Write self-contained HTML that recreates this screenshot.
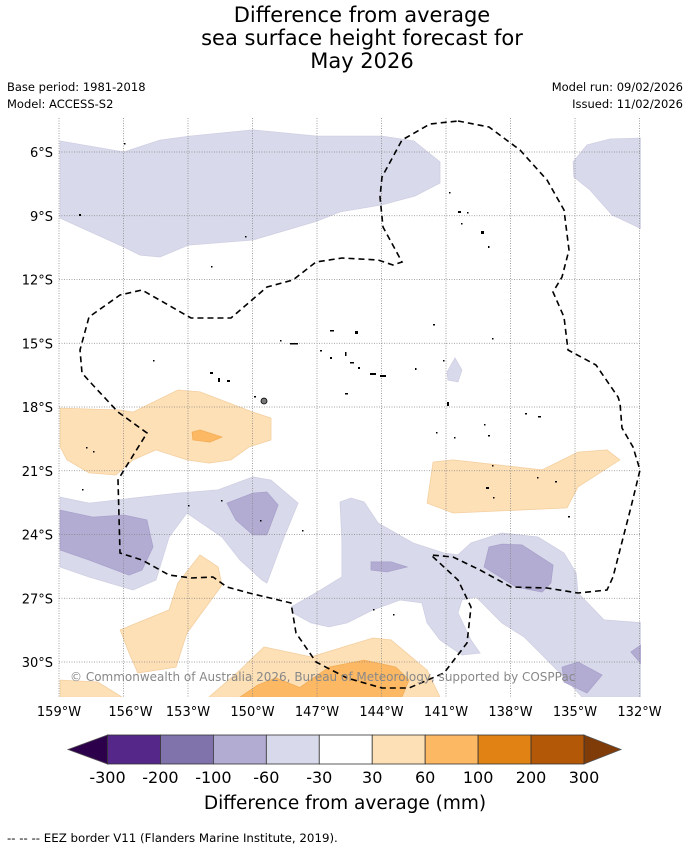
<!DOCTYPE html>
<html><head><meta charset="utf-8"><style>
html,body{margin:0;padding:0;background:#fff;}
svg text{font-family:"DejaVu Sans","Liberation Sans",sans-serif;}
</style></head><body>
<svg id="chart" width="690" height="850" viewBox="0 0 690 850" xmlns="http://www.w3.org/2000/svg">
<g font-size="21" text-anchor="middle" fill="#000">
<text x="362" y="22">Difference from average</text>
<text x="362" y="45">sea surface height forecast for</text>
<text x="362" y="68">May 2026</text>
</g>
<g font-size="11.5" fill="#000">
<text x="7" y="91">Base period: 1981-2018</text>
<text x="7" y="108">Model: ACCESS-S2</text>
<text x="683" y="91" text-anchor="end">Model run: 09/02/2026</text>
<text x="683" y="108" text-anchor="end">Issued: 11/02/2026</text>
</g>
<g id="fills"></g>
<g id="grid"></g>
<path fill="none" stroke="#000" stroke-width="1.6" stroke-dasharray="6,4"
d="M458,121 L489,127 L520,150 L547,180 L564,210 L569,250 L562,277 L553,292 L564,317 L568,350 L596,365 L618,397 L620,403 L622,428 L633,447 L640,470 L631,507 L613,577 L607,590 L578,593 L547,588 L511,587 L480,570 L453,557 L431,555 L458,580 L471,607 L467,643 L444,673 L409,688 L382,688 L347,678 L316,662 L296,633 L291,603 L249,593 L227,587 L213,577 L191,578 L169,575 L142,560 L120,553 L118,480 L124,470 L147,433 L118,412 L91,383 L82,373 L80,350 L89,317 L120,295 L142,290 L191,318 L231,318 L267,287 L293,280 L316,262 L342,258 L378,260 L393,265 L402,262 L383,227 L380,197 L382,177 L402,140 L430,124 Z"/>
<g fill="#000">
<rect x="124" y="143" width="1.5" height="1.5"/><rect x="79" y="214" width="2" height="2"/><rect x="245" y="236" width="1.5" height="1.5"/><rect x="211" y="266" width="1.5" height="1.5"/>
<rect x="458" y="211" width="3" height="2"/><rect x="467" y="212" width="1.5" height="1.5"/><rect x="461" y="223" width="1.5" height="1.5"/><rect x="481" y="231" width="3" height="3"/><rect x="488" y="246" width="1.5" height="2"/><rect x="449" y="192" width="1.5" height="1.5"/>
<rect x="330" y="330" width="4" height="1.5"/><rect x="355" y="331" width="3" height="3"/><rect x="280" y="340" width="1.5" height="1.5"/><rect x="290" y="343" width="8" height="1.5"/><rect x="320" y="350" width="2" height="1.5"/><rect x="330" y="357" width="2" height="2"/><rect x="345" y="352" width="1.5" height="4"/><rect x="350" y="362" width="4" height="1.5"/><rect x="358" y="367" width="2" height="2"/><rect x="370" y="373" width="6" height="2"/><rect x="380" y="375" width="6" height="2"/><rect x="345" y="393" width="3" height="1.5"/><rect x="210" y="372" width="3" height="2"/><rect x="218" y="378" width="2" height="4"/><rect x="227" y="380" width="3" height="2"/><rect x="153" y="360" width="1.5" height="1.5"/><rect x="415" y="368" width="1.5" height="2"/><rect x="433" y="324" width="2" height="1.5"/><rect x="492" y="338" width="1.5" height="1.5"/><rect x="443" y="360" width="1.5" height="1.5"/><rect x="447" y="402" width="2" height="4"/>
<circle cx="264" cy="401" r="3" fill="#777" stroke="#000" stroke-width="0.8"/><rect x="254" y="396" width="2" height="1.5"/>
<rect x="525" y="413" width="2" height="1.5"/><rect x="538" y="416" width="3" height="1.5"/><rect x="484" y="424" width="1.5" height="1.5"/><rect x="488" y="435" width="2" height="1.5"/><rect x="436" y="432" width="1.5" height="1.5"/><rect x="454" y="437" width="1.5" height="1.5"/>
<rect x="492" y="465" width="1.5" height="1.5"/><rect x="486" y="487" width="3" height="2"/><rect x="493" y="497" width="1.5" height="1.5"/><rect x="537" y="477" width="1.5" height="1.5"/><rect x="555" y="481" width="2" height="1.5"/><rect x="568" y="516" width="2" height="1.5"/>
<rect x="82" y="489" width="1.5" height="1.5"/><rect x="86" y="447" width="1.5" height="1.5"/><rect x="93" y="451" width="1.5" height="1.5"/><rect x="221" y="500" width="1.5" height="1.5"/><rect x="188" y="505" width="1.5" height="1.5"/><rect x="260" y="520" width="1.5" height="1.5"/><rect x="302" y="530" width="1.5" height="1.5"/><rect x="373" y="609" width="1.5" height="1.5"/><rect x="393" y="614" width="1.5" height="1.5"/>
</g>
<text x="70" y="681" font-size="12" fill="#888">© Commonwealth of Australia 2026, Bureau of Meteorology, supported by COSPPac</text>
<g id="axes" font-size="13" fill="#000"></g>
<g id="cbar"></g>
<text x="345" y="809" font-size="18.5" text-anchor="middle">Difference from average (mm)</text>
<text x="7" y="842" font-size="11.8">--  --  -- EEZ border V11 (Flanders Marine Institute, 2019).</text>
</svg>
<script>
// Map axes: longitude (deg W) and latitude (deg S)
const lonTicks = [159,156,153,150,147,144,141,138,135,132];
const latTicks = [6,9,12,15,18,21,24,27,30];
const levels = [-300,-200,-100,-60,-30,30,60,100,200,300];
const levelColors = ["#542788","#8073ac","#b2abd2","#d8daeb","#ffffff","#fee0b6","#fdb863","#e08214","#b35806"];

// Contour regions [lonW, latS], with class index into levelColors
const negA = [[158.95,5.48],[155.98,6.0],[154.3,5.44],[152.91,5.25],[149.98,4.96],[147.0,5.25],[143.98,5.25],[142.49,5.48],[141.28,6.47],[141.28,7.46],[142.44,8.07],[143.98,8.49],[145.93,8.82],[147.0,9.25],[149.98,10.14],[152.99,10.38],[154.3,10.94],[155.23,10.85],[155.98,10.47],[158.95,9.11]];
const negB = [[135.09,6.47],[134.44,5.67],[133.37,5.39],[131.79,5.34],[131.79,9.67],[133.28,8.96],[134.3,7.79],[135.05,7.18]];
const negC = [[140.95,16.35],[140.58,15.69],[140.26,16.26],[140.44,16.82],[140.91,16.73]];
const negD = [[158.95,22.24],[157.6,22.52],[153.47,22.05],[151.6,21.9],[149.98,21.29],[149.14,21.44],[147.88,22.52],[148.53,24.12],[149.33,26.28],[149.56,26.14],[150.58,25.2],[151.42,24.12],[153.05,22.99],[153.88,24.12],[154.49,26.14],[155.56,26.61],[157.6,26.0],[158.95,25.53]];
const negE = [[145.93,22.47],[145.42,22.28],[144.81,22.47],[144.16,23.46],[142.53,24.40],[141.09,24.87],[140.44,24.96],[139.84,24.40],[138.40,23.93],[136.72,24.12],[135.51,24.87],[134.95,25.81],[134.86,26.75],[133.65,28.02],[131.79,28.16],[131.79,31.65],[134.67,31.65],[135.70,30.52],[137.37,28.82],[138.40,28.16],[139.60,26.94],[140.26,27.08],[140.44,27.69],[139.84,28.96],[139.42,29.58],[140.26,29.67],[141.28,28.96],[141.88,28.16],[142.12,27.22],[143.14,27.08],[144.40,27.55],[145.60,28.16],[146.44,28.35],[147.28,28.16],[148.12,27.69],[148.21,27.41],[147.05,26.75],[145.84,26.0],[145.84,24.26]];
const strongA = [[158.95,22.85],[157.42,23.18],[155.98,23.08],[154.91,23.32],[154.63,24.59],[155.14,25.67],[155.74,25.91],[157.6,25.2],[158.95,24.73]];
const strongB = [[151.19,22.52],[149.98,22.05],[149.33,22.0],[148.81,22.61],[149.33,24.02],[149.98,24.02],[150.77,23.32]];
const strongC = [[144.49,25.29],[143.56,25.29],[142.81,25.53],[143.74,25.76],[144.49,25.67]];
const strongD = [[139.0,24.59],[138.4,24.45],[137.47,24.49],[136.02,25.44],[136.12,26.28],[136.53,26.71],[137.74,26.47],[139.23,25.53]];
const strongE = [[135.6,30.24],[134.86,30.0],[133.74,30.61],[134.44,31.46],[135.51,30.94]];
const strongF = [[132.4,29.53],[131.79,29.1],[131.79,30.24]];
const posA = [[158.95,18.05],[156.16,18.14],[155.56,18.24],[153.47,17.2],[152.44,17.29],[149.98,18.24],[149.14,18.52],[149.14,19.55],[150.16,19.88],[151.0,20.49],[152.02,20.64],[153.05,20.49],[154.49,20.02],[155.56,20.49],[156.35,21.2],[157.6,21.1],[158.63,20.49],[158.95,19.88]];
const posB = [[141.6,20.59],[140.67,20.49],[136.53,20.96],[134.86,20.12],[133.51,20.02],[132.91,20.49],[134.86,21.76],[135.37,22.75],[140.67,22.99],[141.88,22.52]];
const posC = [[156.16,28.49],[153.88,27.55],[153.47,26.28],[152.44,24.96],[151.60,25.53],[151.42,26.38],[153.05,28.64],[153.56,30.24],[155.33,30.52],[155.74,29.58]];
const posD = [[158.95,30.85],[157.19,30.94],[156.07,31.65],[158.95,31.65]];
const posE = [[152.02,31.65],[150.58,30.38],[149.47,29.29],[147.28,29.76],[144.40,28.87],[143.56,28.96],[141.88,30.38],[141.28,31.65]];
const warmA = [[152.81,19.18],[152.44,19.08],[151.42,19.41],[151.98,19.65],[152.77,19.55]];
const warmB = [[150.58,31.65],[149.74,31.08],[148.91,30.75],[147.8,31.2],[146.44,30.24],[144.81,29.91],[143.33,30.24],[142.72,30.85],[143.05,31.65]];

const regions = [
  {name:"negative-anomaly-north", pts:negA, c:3},{name:"negative-anomaly-northeast", pts:negB, c:3},
  {name:"negative-anomaly-small", pts:negC, c:3},{name:"negative-anomaly-west", pts:negD, c:3},
  {name:"negative-anomaly-southeast", pts:negE, c:3},
  {name:"strong-negative-west", pts:strongA, c:2},{name:"strong-negative-central", pts:strongB, c:2},
  {name:"strong-negative-small", pts:strongC, c:2},{name:"strong-negative-east", pts:strongD, c:2},
  {name:"strong-negative-south", pts:strongE, c:2},{name:"strong-negative-edge", pts:strongF, c:2},
  {name:"positive-anomaly-west", pts:posA, c:5},{name:"positive-anomaly-east", pts:posB, c:5},
  {name:"positive-anomaly-southwest", pts:posC, c:5},{name:"positive-anomaly-corner", pts:posD, c:5},
  {name:"positive-anomaly-south", pts:posE, c:5},
  {name:"strong-positive-west", pts:warmA, c:6},{name:"strong-positive-south", pts:warmB, c:6}
];

const NS="http://www.w3.org/2000/svg";
const MAP={x0:59,x1:641,y0:118,y1:697};
function X(lon){return 59+(159-lon)*21.5;}
function Y(lat){return 152+(lat-6)*21.25;}
const clipDef=document.createElementNS(NS,"clipPath");
clipDef.setAttribute("id","mapclip");
const cr=document.createElementNS(NS,"rect");
cr.setAttribute("x",MAP.x0);cr.setAttribute("y",MAP.y0);cr.setAttribute("width",MAP.x1-MAP.x0);cr.setAttribute("height",MAP.y1-MAP.y0);
clipDef.appendChild(cr);
document.getElementById("chart").appendChild(clipDef);
const fills=document.getElementById("fills");
fills.setAttribute("clip-path","url(#mapclip)");
const edgeCol={3:"#cfcfe3",2:"#a9a2cb",5:"#f3cfa0",6:"#f2ad58"};
regions.forEach(r=>{
  const p=document.createElementNS(NS,"polygon");
  p.setAttribute("points",r.pts.map(q=>X(q[0]).toFixed(1)+","+Y(q[1]).toFixed(1)).join(" "));
  p.setAttribute("fill",levelColors[r.c]);
  p.setAttribute("stroke",edgeCol[r.c]);
  p.setAttribute("stroke-width","0.8");
  
  
  fills.appendChild(p);
});
const grid=document.getElementById("grid");
const axes=document.getElementById("axes");
lonTicks.forEach(l=>{
  const ln=document.createElementNS(NS,"line");
  ln.setAttribute("x1",X(l));ln.setAttribute("x2",X(l));ln.setAttribute("y1",MAP.y0);ln.setAttribute("y2",MAP.y1);
  ln.setAttribute("stroke","#888");ln.setAttribute("stroke-width","0.8");ln.setAttribute("stroke-dasharray","1,1.5");
  
  
  grid.appendChild(ln);
  const t=document.createElementNS(NS,"text");
  t.setAttribute("x",X(l)+(l===156?7:0));t.setAttribute("y",716);t.setAttribute("text-anchor","middle");
  t.textContent=l+"°W";
  
  
  axes.appendChild(t);
});
latTicks.forEach(l=>{
  const ln=document.createElementNS(NS,"line");
  ln.setAttribute("x1",MAP.x0);ln.setAttribute("x2",MAP.x1);ln.setAttribute("y1",Y(l));ln.setAttribute("y2",Y(l));
  ln.setAttribute("stroke","#888");ln.setAttribute("stroke-width","0.8");ln.setAttribute("stroke-dasharray","1,1.5");
  
  
  grid.appendChild(ln);
  const t=document.createElementNS(NS,"text");
  t.setAttribute("x",53);t.setAttribute("y",Y(l)+5);t.setAttribute("text-anchor","end");
  t.textContent=l+"°S";
  
  
  axes.appendChild(t);
});
// colorbar
const cb=document.getElementById("cbar");
const cbX0=107.5,cbX1=584,cbY0=735,cbY1=764,n=levelColors.length;
const w=(cbX1-cbX0)/n;
function tri(pts,col,name){
  const p=document.createElementNS(NS,"polygon");
  p.setAttribute("points",pts);p.setAttribute("fill",col);p.setAttribute("stroke","#555");p.setAttribute("stroke-width","0.8");
  
  
  cb.appendChild(p);
}
tri(cbX0+","+cbY0+" 68,"+((cbY0+cbY1)/2)+" "+cbX0+","+cbY1,"#2d004b","colorbar-min-extension");
tri(cbX1+","+cbY0+" 621,"+((cbY0+cbY1)/2)+" "+cbX1+","+cbY1,"#7f3b08","colorbar-max-extension");
levelColors.forEach((c,i)=>{
  const r=document.createElementNS(NS,"rect");
  r.setAttribute("x",cbX0+i*w);r.setAttribute("y",cbY0);r.setAttribute("width",w);r.setAttribute("height",cbY1-cbY0);
  r.setAttribute("fill",c);r.setAttribute("stroke","#333");r.setAttribute("stroke-width","0.8");
  
  
  cb.appendChild(r);
});
levels.forEach((v,i)=>{
  const t=document.createElementNS(NS,"text");
  t.setAttribute("x",cbX0+i*w);t.setAttribute("y",783);t.setAttribute("text-anchor","middle");t.setAttribute("font-size","16");
  t.textContent=v;
  
  
  cb.appendChild(t);
});
</script>
</body></html>
